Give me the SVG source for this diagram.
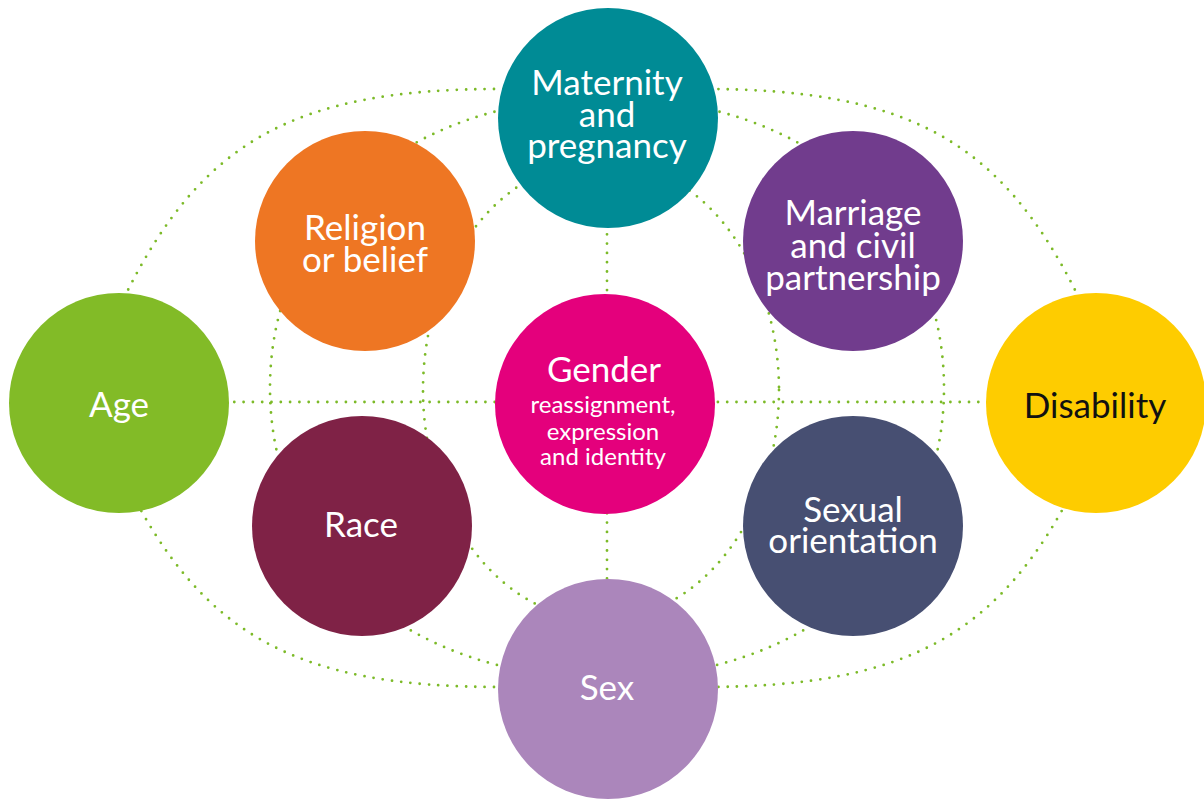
<svg xmlns="http://www.w3.org/2000/svg" width="1204" height="801" viewBox="0 0 1204 801">
  <style>
    .dot { fill: none; stroke: #7CBA28; stroke-width: 2.8; stroke-linecap: round; stroke-dasharray: 0 9.3; }
    .lbl { font-family: Lato, "Open Sans", "Liberation Sans", sans-serif; font-size: 35px; fill: #ffffff; text-anchor: middle; }
    .sm { font-size: 24px; }
    .dark { fill: #111111; }
  </style>
  <rect width="1204" height="801" fill="#ffffff"/>
  <g id="connectors">
    <path class="dot" d="M 124 298 C 201 141, 295 89, 500 89 L 520 89"/>
    <path class="dot" d="M 1079 298 C 1002 141, 908 89, 703 89 L 690 89"/>
    <path class="dot" d="M 124 478 C 201 635, 295 687, 500 687 L 520 687"/>
    <path class="dot" d="M 1079 478 C 1002 635, 908 687, 703 687 L 690 687"/>
    <path class="dot" d="M 605 98 C 405 98, 270 220, 270 388 C 270 556, 405 678, 605 678"/>
    <path class="dot" d="M 609 98 C 809 98, 944 220, 944 388 C 944 556, 809 678, 609 678"/>
    <ellipse class="dot" cx="601" cy="390" rx="178" ry="230"/>
    <path class="dot" d="M 225 402 L 990 402"/>
    <path class="dot" d="M 607 225 L 607 585"/>
  </g>
  <g id="maternity">
    <circle cx="608" cy="118" r="110" fill="#008B95"/>
    <text class="lbl" x="607" y="95">Maternity</text>
    <text class="lbl" x="607" y="127">and</text>
    <text class="lbl" x="607" y="158">pregnancy</text>
  </g>
  <g id="religion">
    <circle cx="365" cy="241" r="110" fill="#EE7623"/>
    <text class="lbl" x="365" y="240">Religion</text>
    <text class="lbl" x="365" y="272">or belief</text>
  </g>
  <g id="marriage">
    <circle cx="853" cy="241" r="110" fill="#713C8D"/>
    <text class="lbl" x="853" y="225">Marriage</text>
    <text class="lbl" x="853" y="258">and civil</text>
    <text class="lbl" x="853" y="290">partnership</text>
  </g>
  <g id="age">
    <circle cx="119" cy="403" r="110" fill="#82BB27"/>
    <text class="lbl" x="119" y="417">Age</text>
  </g>
  <g id="gender">
    <circle cx="605" cy="404" r="110" fill="#E4007C"/>
    <text class="lbl" x="604" y="382">Gender</text>
    <text class="lbl sm" x="603" y="413">reassignment,</text>
    <text class="lbl sm" x="603" y="440">expression</text>
    <text class="lbl sm" x="603" y="465">and identity</text>
  </g>
  <g id="disability">
    <circle cx="1096" cy="403" r="110" fill="#FECC00"/>
    <text class="lbl dark" x="1095" y="418">Disability</text>
  </g>
  <g id="race">
    <circle cx="362" cy="526" r="110" fill="#7F2246"/>
    <text class="lbl" x="361" y="537">Race</text>
  </g>
  <g id="sexual-orientation">
    <circle cx="853" cy="526" r="110" fill="#474F72"/>
    <text class="lbl" x="853" y="522">Sexual</text>
    <text class="lbl" x="853" y="553">orientation</text>
  </g>
  <g id="sex">
    <circle cx="608" cy="689" r="110" fill="#AB86BB"/>
    <text class="lbl" x="607" y="700">Sex</text>
  </g>
</svg>
